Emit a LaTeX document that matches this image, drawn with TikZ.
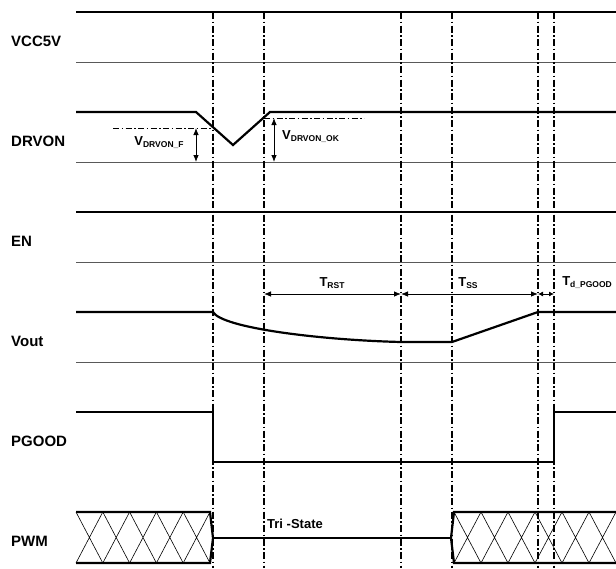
\documentclass[tikz,border=0pt]{standalone}
\usepackage{fontspec}
\setmainfont{Liberation Sans}
\usetikzlibrary{arrows.meta}

\tikzset{
  sig/.style={line width=2.2pt},
  rail/.style={line width=0.9pt, black!65},
  tline/.style={line width=1.4pt, dash pattern=on 7pt off 2.5pt on 1.5pt off 2.5pt},
  thr/.style={line width=1pt, dash pattern=on 6pt off 2.5pt on 1.5pt off 2.5pt},
  dim/.style={line width=0.8pt, {Latex[length=7pt,width=5.5pt]}-{Latex[length=7pt,width=5.5pt]}},
  signame/.style={anchor=base west, inner sep=0pt, font=\fontsize{15}{15}\selectfont\bfseries},
  lab/.style={inner sep=0pt, font=\fontsize{13}{13}\selectfont\bfseries},
}
\newcommand{\vsub}[2]{#1\raisebox{-2pt}{\fontsize{8.5}{8.5}\selectfont #2}}

\begin{document}
\begin{tikzpicture}[x=1pt,y=-1pt]
  \useasboundingbox (0,0) rectangle (616,568);

  % time marks
  \foreach \n/\x in {t1/213,t2/264,t3/401,t4/452,t5/538,t6/554}
    \coordinate (\n) at (\x,12);
  \coordinate (dimy) at (0,294);

  % signal names
  \foreach \y/\s in {46/VCC5V,146/DRVON,246/EN,346/Vout,446/PGOOD,546/PWM}
    \node[signame] (\s) at (11,\y) {\s};

  % low rails
  \foreach \y in {62,162,262,362}
    \draw[rail] (76,\y) -- (616,\y);

  % signals
  \draw[sig] (76,12) -- (616,12);
  \draw[sig] (76,112) -- (196,112) -- (233,145) -- (270,112) -- (616,112);
  \draw[sig] (76,212) -- (616,212);
  \draw[sig] (76,312) -- (213,312) .. controls (222,328) and (320,340) .. (401,342)
    -- (452,342) -- (538,312) -- (616,312);
  \draw[sig] (76,412) -- (213,412) -- (213,462) -- (554,462) -- (554,412) -- (616,412);

  % PWM bus
  \draw[sig] (76,512) -- (210,512) -- (213,538) -- (210,563) -- (76,563);
  \draw[sig] (213,538) -- (452,538);
  \draw[sig] (616,512) -- (454,512) -- (451,538) -- (454,563) -- (616,563);
  \foreach \i in {0,...,4}
    \draw[line width=0.6pt] (76+26.8*\i,512) -- ++(26.8,51) (76+26.8*\i,563) -- ++(26.8,-51);
  \foreach \i in {0,...,5}
    \draw[line width=0.6pt] (454+27*\i,512) -- ++(27,51) (454+27*\i,563) -- ++(27,-51);
  \node[lab, anchor=base west] (tri) at (267,528) {Tri -State};

  % time lines
  \foreach \n in {t1,t2,t3,t4,t5,t6}
    \draw[tline] (\n) -- (\n |- 0,568);

  % DRVON thresholds
  \draw[thr] (113,128) -- (t1 |- 0,128);
  \draw[thr] (t2 |- 0,118) -- (364,118);
  \draw[dim] (196,128) -- (196,162);
  \draw[dim] (274,118) -- (274,162);
  \node[lab] (vf) at (159,143) {\vsub{V}{DRVON\_F}};
  \node[lab, anchor=west] (vok) at (282,137) {\vsub{V}{DRVON\_OK}};

  % timing
  \draw[dim] (t2 |- dimy) -- (t3 |- dimy);
  \draw[dim] (t3 |- dimy) -- (t5 |- dimy);
  \draw[line width=0.8pt, {Latex[length=5pt,width=5pt]}-{Latex[length=5pt,width=5pt]}] (t5 |- dimy) -- (t6 |- dimy);
  \node[lab] (trst) at (332,283) {\vsub{T}{RST}};
  \node[lab] (tss) at (468,283) {\vsub{T}{SS}};
  \node[lab] (tdpg) at (587,283) {\vsub{T}{d\_PGOOD}};
\end{tikzpicture}
\end{document}
